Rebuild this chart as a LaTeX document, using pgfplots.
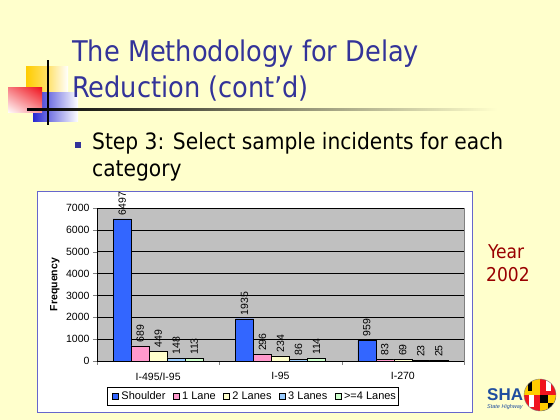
\documentclass[border=0pt]{standalone}
\usepackage{fontspec}
\setmainfont{Liberation Sans}
\newfontfamily\tahoma{DejaVu Sans Condensed}
\usepackage{pgfplots}
\pgfplotsset{compat=1.18}
\usetikzlibrary{shadings}
\definecolor{slidebg}{RGB}{255,255,204}
\definecolor{titleblue}{RGB}{51,51,153}
\definecolor{plotgray}{RGB}{192,192,192}
\definecolor{cShoulder}{RGB}{51,102,255}
\definecolor{cOne}{RGB}{255,153,204}
\definecolor{cTwo}{RGB}{255,255,204}
\definecolor{cThree}{RGB}{153,204,255}
\definecolor{cFour}{RGB}{204,255,204}
\definecolor{boxborder}{RGB}{102,102,204}
\definecolor{yearred}{RGB}{153,0,0}
\definecolor{shablue}{RGB}{31,78,159}
\definecolor{decoyellow}{RGB}{255,204,0}
\definecolor{decored}{RGB}{240,20,30}
\definecolor{decoblue}{RGB}{40,40,210}
\begin{document}
\begin{tikzpicture}[x=1pt,y=1pt]
\useasboundingbox (0,0) rectangle (560,420);
\fill[slidebg] (0,0) rectangle (560,420);
% decorations
\shade[left color=decoyellow, right color=white, middle color=decoyellow!60!white] (26,314) rectangle (68,353);
\shade[left color=decoblue, right color=white] (33,298) rectangle (78,327);
\shade[upper right=decored, lower left=white, upper left=decored!55!white, lower right=decored!45!white] (8,307) rectangle (42,332);
\draw[line width=1.5pt] (48,295) -- (48,360);
\shade[left color=black, right color=slidebg] (27,309) rectangle (497,311.5);
% title
\node[anchor=base west, inner sep=0pt, text=titleblue, font=\tahoma\fontsize{28.5}{34}\selectfont] at (72,358) {The Methodology for Delay};
\node[anchor=base west, inner sep=0pt, text=titleblue, font=\tahoma\fontsize{28.5}{34}\selectfont] at (72,322) {Reduction (cont’d)};
% bullet
\fill[titleblue] (75,272) rectangle (81,278);
\node[anchor=base west, inner sep=0pt, font=\tahoma\fontsize{22.5}{27}\selectfont] at (92,270) {Step 3: Select sample incidents for each};
\node[anchor=base west, inner sep=0pt, font=\tahoma\fontsize{22.5}{27}\selectfont] at (92,243) {category};
% chart box
\draw[boxborder, fill=white, line width=1pt] (37,7) rectangle (472,228);
\begin{axis}[
  at={(97pt,59pt)}, anchor=south west,
  scale only axis, width=367pt, height=153pt,
  ybar=0pt, bar width=18pt,
  xmin=-0.5, xmax=2.5, ymin=0, ymax=7000,
  xtick={0,1,2}, xticklabels={I-495/I-95, I-95, I-270},
  minor xtick={-0.5,0.5,1.5,2.5},
  major x tick style={draw=none},
  minor tick length=4pt, major tick length=4pt,
  tick align=outside,
  ytick={0,1000,...,7000},
  axis x line*=bottom, axis y line*=left,
  axis line style={-, black},
  ymajorgrids, grid style={black, line width=0.6pt},
  axis background/.style={fill=plotgray, draw=gray},
  /pgf/number format/assume math mode=true,
  /pgf/number format/set thousands separator={},
  tick label style={font=\fontsize{10.5}{12}\selectfont},
  xticklabel style={yshift=-4pt},
  ylabel={Frequency},
  ylabel style={at={(axis description cs:-0.115,0.5)}, anchor=center, font=\bfseries\fontsize{10.5}{12}\selectfont},
  nodes near coords,
  nodes near coords style={rotate=90, anchor=west, font=\fontsize{10.5}{12}\selectfont, /pgf/number format/assume math mode=true, /pgf/number format/set thousands separator={}},
  legend columns=-1,
  legend style={at={(0.027,-0.232)}, anchor=west, draw=black, line width=0.8pt, fill=white, font=\fontsize{11}{13}\selectfont, inner ysep=2.5pt, inner xsep=0pt, /tikz/column sep=0pt, nodes={inner xsep=2.5pt}},
  legend image code/.code={\path (-5pt,0pt); \draw[#1, draw=black, line width=0.5pt] (0pt,-3pt) rectangle (6pt,3.5pt);},
]
\addplot[fill=cShoulder, draw=black] coordinates {(0,6497) (1,1935) (2,959)};
\addplot[fill=cOne, draw=black] coordinates {(0,689) (1,296) (2,83)};
\addplot[fill=cTwo, draw=black] coordinates {(0,449) (1,234) (2,69)};
\addplot[fill=cThree, draw=black] coordinates {(0,148) (1,86) (2,23)};
\addplot[fill=cFour, draw=black] coordinates {(0,113) (1,114) (2,25)};
\legend{Shoulder, 1 Lane, 2 Lanes, 3 Lanes, >=4 Lanes}
\end{axis}
% year
\node[anchor=base west, inner sep=0pt, text=yearred, font=\tahoma\fontsize{19}{22}\selectfont] at (488,161) {Year};
\node[anchor=base west, inner sep=0pt, text=yearred, font=\tahoma\fontsize{19}{22}\selectfont] at (486,138) {2002};
% logo
\node[anchor=base west, inner sep=0pt, text=shablue, font=\bfseries\fontsize{17}{20}\selectfont] at (487,19) {SHA};
\node[anchor=base west, inner sep=0pt, text=shablue, font=\itshape\fontsize{5.5}{7}\selectfont] at (487,11) {State Highway};
\begin{scope}
\clip (540,25) circle (16);
\fill[decoyellow] (524,25) rectangle (540,41);
\fill[black] (528,29) rectangle (532,41);
\fill[decored] (540,25) rectangle (556,41);
\fill[white] (546,29) rectangle (551,41);
\fill[decored] (524,9) rectangle (540,25);
\fill[white] (529,13) rectangle (534,25);
\fill[black] (540,9) rectangle (556,25);
\fill[decoyellow] (540,9) rectangle (548,17);
\fill[decoyellow] (548,17) rectangle (556,25);
\end{scope}
\draw[gray] (540,25) circle (16);
\end{tikzpicture}
\end{document}
